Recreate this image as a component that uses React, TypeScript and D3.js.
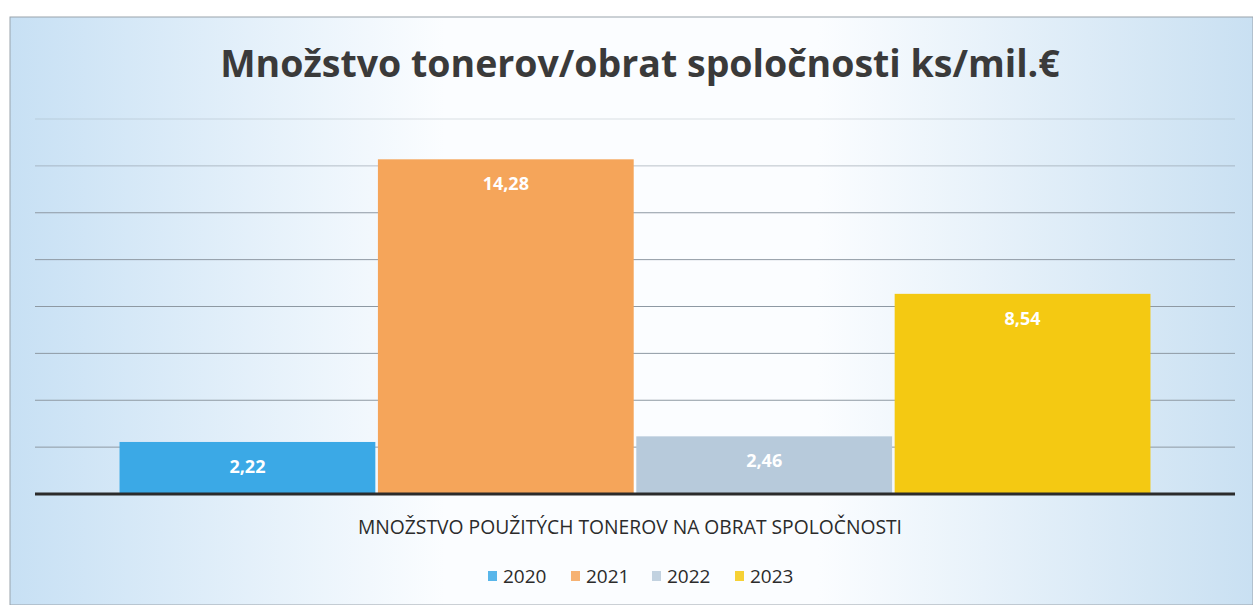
import React, { useRef, useEffect } from "react";
import * as d3 from "d3";

const title = "Množstvo tonerov/obrat spoločnosti ks/mil.€";
const categories = ["MNOŽSTVO POUŽITÝCH TONEROV NA OBRAT SPOLOČNOSTI"];
const years = ["2020", "2021", "2022", "2023"];
const values = [2.22, 14.28, 2.46, 8.54];
const colors = ["#3ba9e6", "#f5a55a", "#b7cadb", "#f4c912"];
const yTicks = [0, 2, 4, 6, 8, 10, 12, 14, 16];

const W = 1253;
const H = 605;

export default function App() {
  const ref = useRef<SVGSVGElement>(null);

  useEffect(() => {
    const svg = d3.select(ref.current);
    svg.selectAll("*").remove();

    const font = "'Open Sans', 'Liberation Sans', sans-serif";

    // 背景グラデーション
    const defs = svg.append("defs");
    const grad = defs
      .append("linearGradient")
      .attr("id", "bg")
      .attr("x1", "0")
      .attr("x2", "1")
      .attr("y1", "0")
      .attr("y2", "0");
    grad.append("stop").attr("offset", "0%").attr("stop-color", "#c7e0f4");
    grad.append("stop").attr("offset", "35%").attr("stop-color", "#fbfdff");
    grad.append("stop").attr("offset", "65%").attr("stop-color", "#fbfdff");
    grad.append("stop").attr("offset", "100%").attr("stop-color", "#c9e0f2");

    svg.append("rect").attr("width", W).attr("height", H).attr("fill", "#fff");
    svg
      .append("rect")
      .attr("x", 10)
      .attr("y", 17)
      .attr("width", W - 10)
      .attr("height", H - 17)
      .attr("fill", "url(#bg)")
      .attr("stroke", "#9aa3ab")
      .attr("stroke-width", 1);

    svg
      .append("text")
      .attr("x", 640)
      .attr("y", 77)
      .attr("text-anchor", "middle")
      .attr("font-family", font)
      .attr("font-weight", "bold")
      .attr("font-size", 37.5)
      .attr("fill", "#3a3a3a")
      .text(title);

    const margin = { top: 119, right: 18, bottom: 110, left: 35 };
    const innerW = W - margin.left - margin.right;
    const innerH = H - margin.top - margin.bottom - 1;

    const g = svg
      .append("g")
      .attr("transform", `translate(${margin.left},${margin.top})`);

    const x0 = d3
      .scaleBand()
      .domain(categories)
      .range([0, innerW])
      .paddingInner(0)
      .paddingOuter(0.082);

    const x1 = d3
      .scaleBand()
      .domain(years)
      .range([0, x0.bandwidth()])
      .paddingInner(0.01);

    const y = d3.scaleLinear().domain([0, 16]).range([innerH, 0]);

    // グリッド（上の方はスキャンで薄い）
    g.selectAll(".grid")
      .data(yTicks.filter((t) => t > 0))
      .enter()
      .append("line")
      .attr("x1", 0)
      .attr("x2", innerW)
      .attr("y1", (d) => y(d))
      .attr("y2", (d) => y(d))
      .attr("stroke", "#8e99a3")
      .attr("stroke-opacity", (d) => (d === 16 ? 0.3 : d === 14 ? 0.6 : 1))
      .attr("stroke-width", 1);

    const cat = categories[0];
    g.selectAll(".bar")
      .data(values)
      .enter()
      .append("rect")
      .attr("x", (_, i) => (x0(cat) as number) + (x1(years[i]) as number))
      .attr("width", x1.bandwidth())
      .attr("y", (d) => y(d))
      .attr("height", (d) => innerH - y(d))
      .attr("fill", (_, i) => colors[i]);

    g.selectAll(".lbl")
      .data(values)
      .enter()
      .append("text")
      .attr(
        "x",
        (_, i) =>
          (x0(cat) as number) + (x1(years[i]) as number) + x1.bandwidth() / 2
      )
      .attr("y", (d) => y(d) + 31)
      .attr("text-anchor", "middle")
      .attr("font-family", font)
      .attr("font-weight", "bold")
      .attr("font-size", 18)
      .attr("fill", "#ffffff")
      .text((d) => d.toFixed(2).replace(".", ","));

    // 軸線
    g.append("line")
      .attr("x1", 0)
      .attr("x2", innerW)
      .attr("y1", innerH)
      .attr("y2", innerH)
      .attr("stroke", "#2b2b2b")
      .attr("stroke-width", 3);

    g.append("text")
      .attr("x", (x0(cat) as number) + x0.bandwidth() / 2 - 5)
      .attr("y", innerH + 40)
      .attr("text-anchor", "middle")
      .attr("font-family", font)
      .attr("font-size", 19.3)
      .attr("fill", "#2b2b2b")
      .text(cat);

    // 凡例
    const legend = svg.append("g").attr("transform", `translate(0,576)`);
    const itemX = [488, 571, 652, 735];
    years.forEach((yr, i) => {
      const lx = itemX[i];
      legend
        .append("rect")
        .attr("x", lx)
        .attr("y", -5)
        .attr("width", 9)
        .attr("height", 10)
        .attr("fill", colors[i])
        .attr("opacity", 0.85);
      legend
        .append("text")
        .attr("x", lx + 15)
        .attr("y", 7)
        .attr("font-family", font)
        .attr("font-size", 19)
        .attr("fill", "#2b2b2b")
        .text(yr);
    });
  }, []);

  return (
    <svg
      ref={ref}
      width={W}
      height={H}
      style={{ position: "absolute", left: 0, top: 0, display: "block" }}
    />
  );
}
